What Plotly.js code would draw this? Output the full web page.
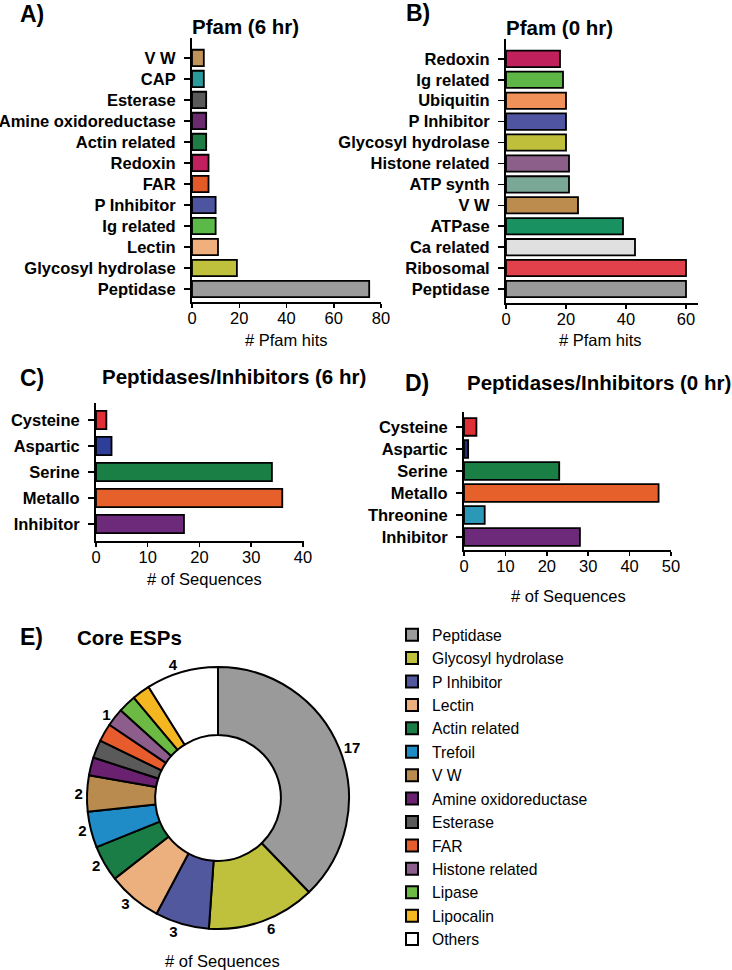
<!DOCTYPE html>
<html>
<head>
<meta charset="utf-8">
<script src="https://cdn.plot.ly/plotly-3.0.1.min.js"></script>
<style>html,body{margin:0;padding:0;background:#fff;}#chart{width:732px;height:970px;}</style>
</head>
<body>
<div id="chart"></div>
<script>
// ---------- Data ----------
// Panel A: Pfam (6 hr) — top to bottom
const pfam6Labels = ["V W","CAP","Esterase","Amine oxidoreductase","Actin related","Redoxin","FAR","P Inhibitor","Ig related","Lectin","Glycosyl hydrolase","Peptidase"];
const pfam6Values = [5,5,6,6,6,7,7,10,10,11,19,75];
const pfam6Colors = ["#c09359","#2a9a9a","#5a5a5a","#6a2a6e","#1e7d45","#c0215e","#e35a28","#4d55a0","#5bb947","#efb07d","#bfc03c","#9b9b9b"];

// Panel B: Pfam (0 hr)
const pfam0Labels = ["Redoxin","Ig related","Ubiquitin","P Inhibitor","Glycosyl hydrolase","Histone related","ATP synth","V W","ATPase","Ca related","Ribosomal","Peptidase"];
const pfam0Values = [18,19,20,20,20,21,21,24,39,43,60,60];
const pfam0Colors = ["#c0205c","#5db646","#f1915a","#4f55a0","#c0bf3c","#8b5f8a","#7aa896","#bb8c4e","#1a9161","#e0e0e0","#e0414a","#9a9a9a"];

// Panel C: Peptidases/Inhibitors (6 hr)
const pep6Labels = ["Cysteine","Aspartic","Serine","Metallo","Inhibitor"];
const pep6Values = [2,3,34,36,17];
const pep6Colors = ["#e03037","#2d3f98","#1a7f45","#e6602c","#6e2a7a"];

// Panel D: Peptidases/Inhibitors (0 hr)
const pep0Labels = ["Cysteine","Aspartic","Serine","Metallo","Threonine","Inhibitor"];
const pep0Values = [3,1,23,47,5,28];
const pep0Colors = ["#e03037","#2a2f6e","#1a7f45","#e6602c","#2b98b8","#6e2a7a"];

// Panel E: Core ESPs
const coreLabels = ["Peptidase","Glycosyl hydrolase","P Inhibitor","Lectin","Actin related","Trefoil","V W","Amine oxidoreductase","Esterase","FAR","Histone related","Lipase","Lipocalin","Others"];
const coreValues = [17,6,3,3,2,2,2,1,1,1,1,1,1,4];
const coreShown  = ["17","6","3","3","2","2","2","","","","1","","","4"];
const coreColors = ["#9a9a9a","#bfc03c","#52589e","#ebb07d","#1a7d45","#1f8bc7","#b98b4f","#6a2170","#5a5a5a","#e65c2c","#8d5d8b","#6cb944","#f4b621","#ffffff"];

// ---------- Layout helpers ----------
const W = 732, H = 970;
const FONT = "Liberation Sans, Arial, sans-serif";
const px = x => x / W;
const py = y => 1 - y / H;

function barTrace(labels, values, colors, xa, ya, width) {
  return {
    type: "bar", orientation: "h",
    y: labels, x: values,
    xaxis: xa, yaxis: ya,
    width: width,
    marker: {color: colors, line: {color: "#000", width: 1.8}},
    showlegend: false, hoverinfo: "skip"
  };
}

function xAxis(x0, x1, yAnchor, range, dtick) {
  return {
    domain: [px(x0), px(x1)], anchor: yAnchor, range: range, dtick: dtick, tick0: 0,
    showline: true, linewidth: 2, linecolor: "#000",
    ticks: "outside", ticklen: 4, tickwidth: 1.5, tickcolor: "#000",
    ticklabelstandoff: -4,
    showgrid: false, zeroline: false, fixedrange: true,
    tickfont: {family: FONT, size: 16.5, color: "#000"}
  };
}
function yAxis(y0, y1, xAnchor, labels, padTop, padBottom) {
  return {
    domain: [py(y1), py(y0)], anchor: xAnchor, type: "category",
    categoryorder: "array", categoryarray: labels,
    range: [labels.length - 1 + padBottom, -padTop],
    showline: true, linewidth: 2, linecolor: "#000",
    ticks: "outside", ticklen: 6, tickwidth: 1.5, tickcolor: "#000",
    showgrid: false, zeroline: false, fixedrange: true,
    ticklabelstandoff: 5,
    tickfont: {family: FONT, size: 16.5, color: "#000", weight: "bold"}
  };
}

const traces = [
  barTrace(pfam6Labels, pfam6Values, pfam6Colors, "x", "y", 0.78),
  barTrace(pfam0Labels, pfam0Values, pfam0Colors, "x2", "y2", 0.78),
  barTrace(pep6Labels, pep6Values, pep6Colors, "x3", "y3", 0.7),
  barTrace(pep0Labels, pep0Values, pep0Colors, "x4", "y4", 0.8),
  {
    type: "pie", labels: coreLabels, values: coreValues, text: coreShown,
    sort: false, direction: "clockwise", rotation: 0, hole: 0.48,
    domain: {x: [px(87), px(349)], y: [py(929), py(667)]},
    marker: {colors: coreColors, line: {color: "#000", width: 2}},
    textinfo: "text", texttemplate: "%{text}", textposition: "outside",
    outsidetextfont: {family: FONT, size: 15, color: "#000", weight: "bold"},
    hoverinfo: "skip", showlegend: true
  }
];

function ann(text, x, y, size, bold, xanchor) {
  return {
    text: text, xref: "paper", yref: "paper", x: px(x), y: py(y),
    xanchor: xanchor || "left", yanchor: "middle", showarrow: false,
    font: {family: FONT, size: size, color: "#000", weight: bold ? "bold" : "normal"}
  };
}

const layout = {
  width: W, height: H,
  margin: {l: 0, r: 0, t: 0, b: 0},
  paper_bgcolor: "#fff", plot_bgcolor: "#fff",
  font: {family: FONT, color: "#000"},
  xaxis:  xAxis(192, 381, "y", [0, 80], 20),
  yaxis:  yAxis(38, 302, "x", pfam6Labels, 0.95, 0.62),
  xaxis2: xAxis(506, 698, "y2", [0, 64], 20),
  yaxis2: yAxis(39, 303, "x2", pfam0Labels, 0.95, 0.67),
  xaxis3: xAxis(96, 304, "y3", [0, 40.2], 10),
  yaxis3: yAxis(403, 541, "x3", pep6Labels, 0.65, 0.65),
  xaxis4: xAxis(464, 671, "y4", [0, 50], 10),
  yaxis4: yAxis(412, 550, "x4", pep0Labels, 0.68, 0.59),
  showlegend: true,
  legend: {
    x: px(392), y: py(618), xanchor: "left", yanchor: "top",
    font: {family: FONT, size: 15.7, color: "#000"},
    bgcolor: "rgba(0,0,0,0)", borderwidth: 0, traceorder: "normal"
  },
  annotations: [
    ann("A)", 18, 14, 23, true),
    ann("Pfam (6 hr)", 190, 26, 20.5, true),
    ann("B)", 404, 13, 23, true),
    ann("Pfam (0 hr)", 504, 27, 20.5, true),
    ann("# Pfam hits", 286, 340, 16.5, false, "center"),
    ann("# Pfam hits", 600, 340, 16.5, false, "center"),
    ann("C)", 18, 378, 23, true),
    ann("Peptidases/Inhibitors (6 hr)", 100, 377, 20.5, true),
    ann("D)", 403, 383, 23, true),
    ann("Peptidases/Inhibitors (0 hr)", 465, 383, 20.5, true),
    ann("# of Sequences", 205, 579, 16.5, false, "center"),
    ann("# of Sequences", 568, 596, 16.5, false, "center"),
    ann("E)", 18, 637, 23, true),
    ann("Core ESPs", 75, 637, 20.5, true),
    ann("# of Sequences", 222, 961, 16.5, false, "center")
  ]
};

Plotly.newPlot("chart", traces, layout, {displayModeBar: false, staticPlot: true});
</script>
</body>
</html>
